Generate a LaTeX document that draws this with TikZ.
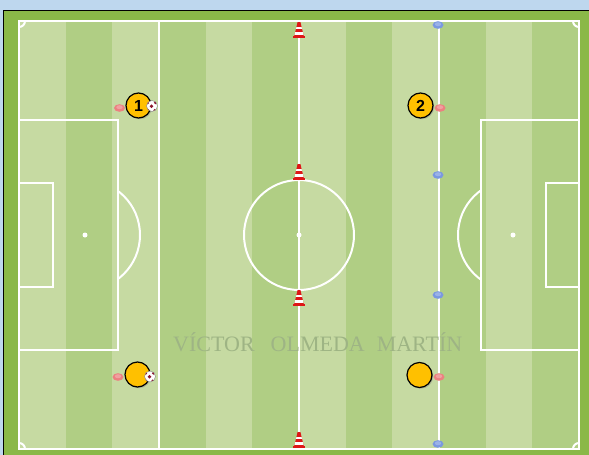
\documentclass[tikz,border=0pt]{standalone}
\usepackage{fontspec}
\setmainfont{Liberation Serif}
\newfontfamily\numfont{Liberation Sans}
\usetikzlibrary{shadows}

\definecolor{sky}{RGB}{190,215,238}
\definecolor{grassedge}{RGB}{138,184,72}
\definecolor{grasslight}{RGB}{198,218,162}
\definecolor{grassdark}{RGB}{176,206,132}
\definecolor{shirt}{RGB}{255,192,0}
\definecolor{discred}{RGB}{236,128,128}
\definecolor{discblue}{RGB}{122,152,224}
\definecolor{conered}{RGB}{222,22,22}
\definecolor{ballred}{RGB}{140,22,44}
\definecolor{markgreen}{RGB}{158,180,132}

\tikzset{
  % striped traffic cone
  cone/.pic={
    \begin{scope}
      \clip (-5,7) -- (-1.4,-8) -- (1.4,-8) -- (5,7) -- cycle;
      \fill[conered] (-6,-9) rectangle (6,8);
      \fill[white] (-6,-3.5) rectangle (6,-0.8);
      \fill[white] (-6,2.2) rectangle (6,4.6);
    \end{scope}
    \fill[conered] (-6,6.2) rectangle (6,8.4);
  },
  % flat marker disc
  disc/.pic={
    \fill[#1] (0,0) ellipse (5.5pt and 3.8pt);
    \fill[#1!75!white] (0,-0.8) ellipse (3.2pt and 2pt);
  },
  % ball
  ball/.pic={
    \fill[white] (0,0) circle (5.5pt);
    \begin{scope}
      \clip (0,0) circle (5.5pt);
      \fill[ballred] (-0.5,0.3) circle (1.9pt);
      \fill[ballred] (3.4,-3.2) circle (1.5pt);
      \fill[ballred] (-4.2,-3) circle (1.4pt);
      \fill[ballred] (2.8,4.4) circle (1.5pt);
      \fill[ballred] (-4,4) circle (1.2pt);
    \end{scope}
    \draw[gray, line width=0.4pt] (0,0) circle (5.5pt);
  }
}

\begin{document}
\begin{tikzpicture}[x=1pt, y=-1pt,
    pitchline/.style={white, line width=2pt},
    player/.style={circle, draw=black, line width=1.2pt, fill=shirt,
      minimum size=25pt, inner sep=0pt,
      drop shadow={shadow xshift=1.2pt, shadow yshift=-1.2pt, opacity=0.45},
      font=\numfont\bfseries\fontsize{16}{16}\selectfont}
]
\useasboundingbox (0,0) rectangle (589,455);
\clip (0,0) rectangle (589,455);

% background and frame
\fill[sky] (0,0) rectangle (589,455);
\fill[grassedge] (3.5,10.5) rectangle (600,470);
\draw[black, line width=1.6pt] (3.5,470) -- (3.5,10.5) -- (600,10.5);

% mowing stripes
\fill[grasslight] (19,21) rectangle (579,449);
\foreach \i in {1,3,...,11}
  \fill[grassdark] ({19+\i*560/12},21) rectangle ({19+(\i+1)*560/12},449);

% markings
\draw[pitchline] (19,21) rectangle (579,449);
\draw[pitchline] (299,21) -- (299,449);
\draw[pitchline] (159,21) -- (159,449);
\draw[pitchline] (439,21) -- (439,449);
\draw[pitchline] (299,235) circle (55pt);
\fill[white] (299,235) circle (2.5pt);

% left end
\draw[pitchline] (19,120) -- (118,120) -- (118,350) -- (19,350);
\draw[pitchline] (19,183) -- (53,183) -- (53,287) -- (19,287);
\fill[white] (85,235) circle (2.5pt);
\begin{scope}
  \clip (119,0) rectangle (299,455);
  \draw[pitchline] (85,235) circle (55pt);
\end{scope}

% right end
\draw[pitchline] (579,120) -- (481,120) -- (481,350) -- (579,350);
\draw[pitchline] (579,183) -- (546,183) -- (546,287) -- (579,287);
\fill[white] (513,235) circle (2.5pt);
\begin{scope}
  \clip (0,0) rectangle (480,455);
  \draw[pitchline] (513,235) circle (55pt);
\end{scope}

% corner arcs
\begin{scope}
  \clip (19,21) rectangle (579,449);
  \foreach \cx/\cy in {19/21, 579/21, 19/449, 579/449}
    \draw[pitchline] (\cx,\cy) circle (6pt);
\end{scope}

% watermark
\node[anchor=base west, inner sep=0pt, text=markgreen,
  font=\fontsize{22}{22}\selectfont] (credit) at (173,351)
  {VÍCTOR\hspace{16pt}OLMEDA\hspace{12pt}MARTÍN};

% cones on the halfway line
\foreach \cy in {30,172,298,440}
  \pic at (299,\cy) {cone};

% marker discs
\foreach \cy in {25,175,295,444}
  \pic at (438,\cy) {disc=discblue};
\pic at (119.5,108) {disc=discred};
\pic at (440,108) {disc=discred};
\pic at (118,377) {disc=discred};
\pic at (439,377) {disc=discred};

% players
\node[player] (p1) at (138.5,105.5) {1};
\node[player] (p2) at (420.5,105.5) {2};
\node[player] (p3) at (137.5,374.5) {};
\node[player] (p4) at (419.5,375) {};

% balls
\pic at (152,106) {ball};
\pic at (150,376.5) {ball};

\end{tikzpicture}
\end{document}
